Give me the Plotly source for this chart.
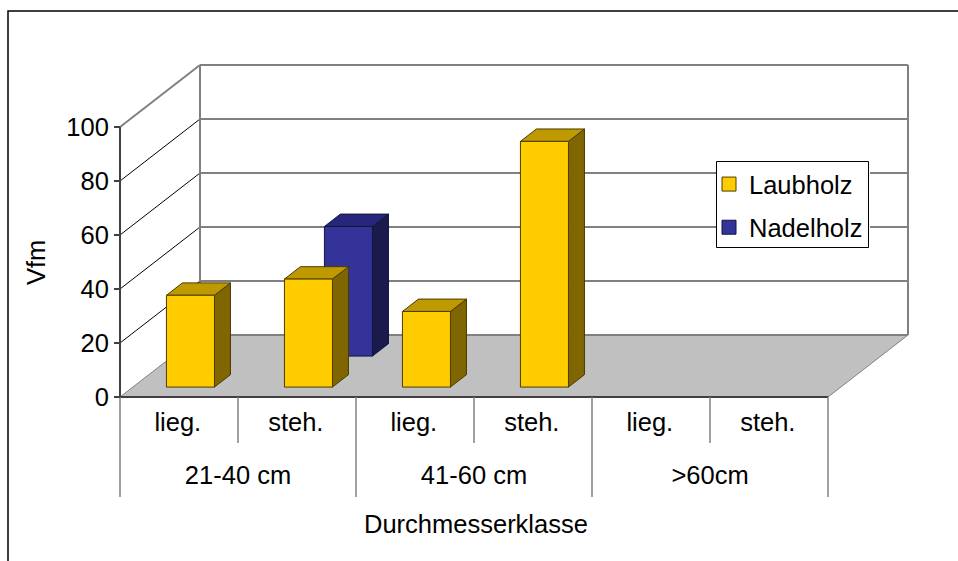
import plotly.graph_objects as go

# Chart data
sub_labels = ["lieg.", "steh.", "lieg.", "steh.", "lieg.", "steh."]
group_labels = ["21-40 cm", "41-60 cm", ">60cm"]
laubholz = [34, 40, 28, 91, None, None]
nadelholz = [None, 48, None, None, None, None]
y_ticks = [0, 20, 40, 60, 80, 100]

# Canvas geometry, in pixels
W, H = 958, 561
LEFT, RIGHT, TOP, BOTTOM = 110, 912, 60, 501
X0, Y0 = 120, 397            # where category 0 / value 0 sit
CAT_PX, UNIT_PX = 118, 2.7   # pixels per category, per value unit
DEPTH_X, DEPTH_Y = 80 / CAT_PX, 62 / UNIT_PX  # oblique offset of the back wall
N = len(sub_labels)

GRID = "#808080"
FONT = dict(family="Liberation Sans, Arial, sans-serif", size=25.5, color="#000000")


def proj(x, y, d=0.0):
    """Oblique projection: depth d (0 front, 1 back) shifts a point up and right."""
    return x + DEPTH_X * d, y + DEPTH_Y * d


def line(points, color, width):
    xs, ys = zip(*points)
    return go.Scatter(x=xs, y=ys, mode="lines", line=dict(color=color, width=width),
                      showlegend=False, hoverinfo="skip")


def poly(points, fill, edge):
    xs, ys = zip(*(points + points[:1]))
    return go.Scatter(x=xs, y=ys, mode="lines", fill="toself", fillcolor=fill,
                      line=dict(color=edge, width=1), showlegend=False, hoverinfo="skip")


def bars(values, slot, front, side, top, edge):
    """Cuboids for one series; slot 0 stands in front of slot 1."""
    traces = []
    d0, d1 = (slot + 0.32) / 2, (slot + 0.72) / 2
    for i, v in enumerate(values):
        if v is None:
            continue
        a, b = i + 0.285, i + 0.692
        traces.append(poly([proj(b, 0, d0), proj(b, 0, d1), proj(b, v, d1), proj(b, v, d0)], side, edge))
        traces.append(poly([proj(a, v, d0), proj(b, v, d0), proj(b, v, d1), proj(a, v, d1)], top, edge))
        traces.append(poly([proj(a, 0, d0), proj(b, 0, d0), proj(b, v, d0), proj(a, v, d0)], front, edge))
    return traces


fig = go.Figure()

# Floor
fig.add_trace(poly([proj(0, 0), proj(0, 0, 1), proj(N, 0, 1), proj(N, 0)], "#C0C0C0", GRID))

# Walls and gridlines
for v in y_ticks[1:]:
    is_top = v == y_ticks[-1]
    fig.add_trace(line([proj(0, v), proj(0, v, 1)], GRID if is_top else "#000000", 2 if is_top else 1))
    fig.add_trace(line([proj(0, v, 1), proj(N, v, 1)], GRID, 2))
fig.add_trace(line([proj(0, 0, 1), proj(N, 0, 1)], GRID, 2))
fig.add_trace(line([proj(0, 0, 1), proj(0, y_ticks[-1], 1)], GRID, 2))
fig.add_trace(line([proj(N, 0, 1), proj(N, y_ticks[-1], 1)], GRID, 2))

# Bars, back row first
for t in bars(nadelholz, 1, "#333399", "#1A1A4D", "#26267A", "#14143C"):
    fig.add_trace(t)
for t in bars(laubholz, 0, "#FFCC00", "#806600", "#BF9900", "#4A3C00"):
    fig.add_trace(t)

# Value axis line, front floor edge and the two-level category separators
fig.add_trace(line([(0, 0), (0, y_ticks[-1])], "#404040", 2))
fig.add_trace(line([(0, 0), (N, 0)], "#404040", 2))
sub_bottom, group_bottom = (Y0 - 443) / UNIT_PX, (Y0 - 497) / UNIT_PX
for i in range(N + 1):
    low = group_bottom if i % 2 == 0 else sub_bottom
    fig.add_trace(line([(i, 0), (i, low)], GRID, 1.5))

# Category labels
fig.add_trace(go.Scatter(x=[i + 0.49 for i in range(N)], y=[(Y0 - 425) / UNIT_PX] * N,
                         mode="text", text=sub_labels, textfont=FONT, textposition="middle center",
                         showlegend=False, hoverinfo="skip"))
fig.add_trace(go.Scatter(x=[1, 3, 5], y=[(Y0 - 478) / UNIT_PX] * 3,
                         mode="text", text=group_labels, textfont=FONT, textposition="middle center",
                         showlegend=False, hoverinfo="skip"))

# Legend entries
for name, color, edge in [("Laubholz", "#FFCC00", "#4A3C00"), ("Nadelholz", "#333399", "#14143C")]:
    fig.add_trace(go.Scatter(x=[None], y=[None], mode="markers", name=name, legendgroup=name,
                             marker=dict(symbol="square", size=14, color=color,
                                         line=dict(color=edge, width=1))))

PLOT_W, PLOT_H = W - LEFT - (W - RIGHT), BOTTOM - TOP


def paper_x(px):
    return (px - LEFT) / PLOT_W


def paper_y(py):
    return (BOTTOM - py) / PLOT_H


def paper_rect(x0, y0, x1, y1, line_spec, fill=None):
    return dict(type="rect", xref="paper", yref="paper", layer="above",
                x0=paper_x(x0), x1=paper_x(x1), y0=paper_y(y1), y1=paper_y(y0),
                line=line_spec, fillcolor=fill)


fig.update_layout(
    width=W, height=H, autosize=False,
    margin=dict(l=LEFT, r=W - RIGHT, t=TOP, b=H - BOTTOM, pad=0),
    paper_bgcolor="#FFFFFF", plot_bgcolor="#FFFFFF",
    font=FONT,
    xaxis=dict(range=[(LEFT - X0) / CAT_PX, (RIGHT - X0) / CAT_PX], visible=False),
    yaxis=dict(range=[(Y0 - BOTTOM) / UNIT_PX, (Y0 - TOP) / UNIT_PX],
               anchor="free", position=paper_x(X0),
               tickmode="array", tickvals=y_ticks, ticktext=[str(v) for v in y_ticks],
               ticks="outside", ticklen=6, tickwidth=2, tickcolor="#404040",
               tickfont=FONT, showgrid=False, zeroline=False, showline=False),
    # The legend sits borderless on its own framed box so the swatches can hug the frame
    legend=dict(x=paper_x(709), y=paper_y(161), xanchor="left", yanchor="top",
                bgcolor="rgba(0,0,0,0)", borderwidth=0,
                font=FONT, traceorder="grouped", tracegroupgap=7, itemclick=False, itemdoubleclick=False),
    shapes=[
        paper_rect(8, 11, W + 10, H + 10, dict(color="#000000", width=1.5)),
        paper_rect(716, 161, 870, 249, dict(width=0), "#FFFFFF"),
        paper_rect(716.5, 161.5, 868.5, 247.5, dict(color="#000000", width=1), "#FFFFFF"),
    ],
    annotations=[
        dict(text="Vfm", xref="paper", yref="paper", x=paper_x(36), y=paper_y(263),
             textangle=-90, showarrow=False, font=FONT, xanchor="center", yanchor="middle"),
        dict(text="Durchmesserklasse", xref="paper", yref="paper", x=paper_x(476), y=paper_y(524),
             showarrow=False, font=FONT, xanchor="center", yanchor="middle"),
    ],
)

fig.write_html("out.html", config=dict(displayModeBar=False))
